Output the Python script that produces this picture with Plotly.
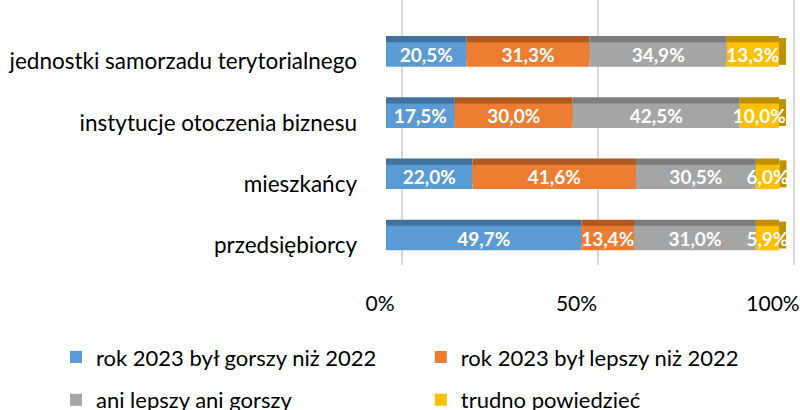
import plotly.graph_objects as go

categories = ["przedsiębiorcy", "mieszkańcy", "instytucje otoczenia biznesu", "jednostki samorzadu terytorialnego"]
series_names = ["rok 2023 był gorszy niż 2022", "rok 2023 był lepszy niż 2022", "ani lepszy ani gorszy", "trudno powiedzieć"]
gorszy = [49.7, 22.0, 17.5, 20.5]
lepszy = [13.4, 41.6, 30.0, 31.3]
ani = [31.0, 30.5, 42.5, 34.9]
trudno = [5.9, 6.0, 10.0, 13.3]
tick_vals = [0, 50, 100]
tick_text = ["0%", "50%", "100%"]

values = [gorszy, lepszy, ani, trudno]
colors = ["#5B9BD5", "#ED7D31", "#A5A5A5", "#FFC000"]
dark = ["#41719C", "#AE5A21", "#7C7C7C", "#BF9000"]
FONT = "Lato"
SIDE_DEPTH = 1.8  # visual depth of the 3D side face (style constant)

# cumulative bases for stacking
bases = []
acc = [0.0] * len(categories)
for vals in values:
    bases.append(list(acc))
    acc = [a + v for a, v in zip(acc, vals)]
totals = acc

fig = go.Figure()

# gridline helper so xaxis2 is rendered
fig.add_trace(go.Scatter(x=tick_vals, y=[categories[0]] * 3, xaxis="x2", mode="markers",
                         marker=dict(opacity=0), showlegend=False, hoverinfo="skip"))

# darker "top faces" drawn behind, shifted up (3D look)
for vals, b, c in zip(values, bases, dark):
    fig.add_trace(go.Bar(
        y=categories, x=vals, base=b, orientation="h", marker=dict(color=c, line=dict(width=0)),
        width=0.40, offset=-0.10, showlegend=False, hoverinfo="skip",
    ))
# right side face of the last segment
fig.add_trace(go.Bar(
    y=categories, x=[SIDE_DEPTH] * len(categories), base=totals, orientation="h",
    marker=dict(color=dark[-1], line=dict(width=0)),
    width=0.44, offset=-0.17, showlegend=False, hoverinfo="skip",
))

legends = ["legend", "legend2", "legend3", "legend4"]
for name, vals, b, c, lg in zip(series_names, values, bases, colors, legends):
    fig.add_trace(go.Bar(
        y=categories, x=vals, base=b, orientation="h", name=name,
        marker=dict(color=c, line=dict(width=0)),
        width=0.40, offset=-0.20,
        text=[f"{v:.1f}%".replace(".", ",") for v in vals], texttemplate="%{text}",
        textposition="inside", textangle=0,
        insidetextanchor="middle", constraintext="none",
        textfont=dict(family=FONT, size=19, color="white", weight="bold"),
        legend=lg,
    ))

leg_common = dict(orientation="h", xref="container", yref="container",
                  xanchor="left", yanchor="middle", font=dict(size=22),
                  bgcolor="rgba(0,0,0,0)")
fig.update_layout(
    width=800, height=410,
    barmode="overlay",
    plot_bgcolor="white", paper_bgcolor="white",
    margin=dict(l=386, r=0, t=0, b=145, autoexpand=False),
    font=dict(family=FONT, size=20, color="#000000"),
    xaxis=dict(range=[0, 105.34], tickvals=tick_vals, ticktext=tick_text,
               showgrid=False, zeroline=False, showline=False,
               ticklabelstandoff=24, ticklabelshift=-6, ticklabeloverflow="allow",
               tickfont=dict(size=21)),
    xaxis2=dict(range=[-4.0, 101.5], overlaying="x", anchor="y", side="bottom",
                tickvals=tick_vals, showticklabels=False, showgrid=True,
                gridcolor="#D9D9D9", gridwidth=2, zeroline=False, showline=False),
    yaxis=dict(categoryorder="array", categoryarray=categories,
               range=[-0.44, 3.89], showgrid=False, zeroline=False, showline=False,
               ticklabelstandoff=28, ticklabelshift=7, tickfont=dict(size=22.5)),
    legend=dict(leg_common, x=0.07, y=0.129),
    legend2=dict(leg_common, x=0.526, y=0.129),
    legend3=dict(leg_common, x=0.07, y=0.0244),
    legend4=dict(leg_common, x=0.526, y=0.0244),
)

fig.write_html(
    "out.html",
    config={"displayModeBar": False},
    post_script="document.body.style.margin='0';document.body.style.overflow='hidden';",
)
